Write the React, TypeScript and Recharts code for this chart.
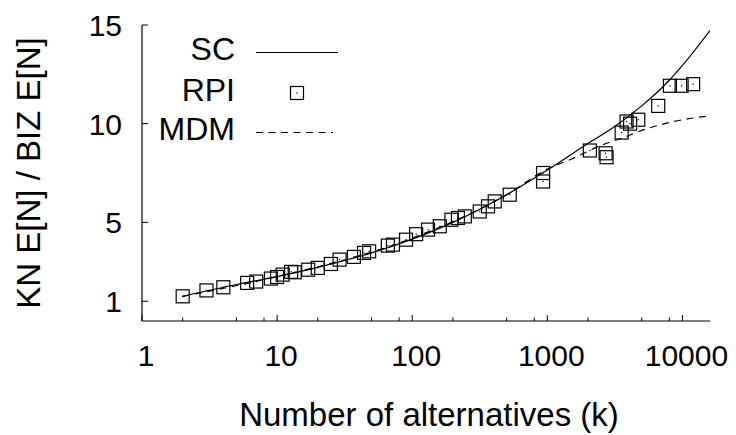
import React from 'react';
import { ComposedChart, Line, Scatter, XAxis, YAxis, Legend, Label } from 'recharts';

// ── axis ticks ─────────────────────────────────────────────
const X_TICKS = [1, 2, 5, 8, 10, 20, 50, 80, 100, 200, 500, 800, 1000, 2000, 5000, 8000, 10000];
const X_LABELED = [1, 10, 100, 1000, 10000];
const Y_TICKS = [1, 5, 10, 15];
const Y_RIGHT_TICKS = [1, 5, 10];

// ── SC (solid) ─────────────────────────────────────────────
const SC_K = [2, 5, 10, 20, 50, 100, 200, 500, 1000, 2000, 3000, 5000, 8000, 10000, 16000];
const SC_V = [1.25, 1.85, 2.25, 2.72, 3.45, 4.15, 5.0, 6.4, 7.65, 9.0, 9.75, 10.9, 12.2, 12.95, 14.72];

// ── MDM (dashed) ───────────────────────────────────────────
const MDM_K = [2, 10, 100, 500, 1000, 1500, 2500, 3500, 5500, 8500, 16000];
const MDM_V = [1.25, 2.25, 4.2, 6.4, 7.7, 8.2, 8.9, 9.25, 9.75, 10.1, 10.4];

// ── RPI (squares) ──────────────────────────────────────────
const RPI_K = [2, 3, 4, 6, 7, 9, 10, 11, 12.7, 13.5, 17, 20, 25, 29, 37, 44, 48, 66, 72, 90,
  107, 131, 160, 195, 218, 245, 316, 364, 408, 527, 930, 930, 2065, 2700, 2745, 3550, 3860,
  4100, 4710, 6620, 8080, 9860, 12000];
const RPI_V = [1.25, 1.55, 1.71, 1.93, 2.0, 2.15, 2.23, 2.35, 2.49, 2.47, 2.6, 2.69, 2.89, 3.11,
  3.25, 3.45, 3.53, 3.82, 3.87, 4.12, 4.4, 4.63, 4.8, 5.13, 5.22, 5.3, 5.55, 5.81, 6.06, 6.4,
  7.5, 7.07, 8.64, 8.5, 8.3, 9.55, 10.11, 10.0, 10.2, 10.9, 11.92, 11.92, 12.0];

const scData = SC_K.map((k, i) => ({ k, v: SC_V[i] }));
const mdmData = MDM_K.map((k, i) => ({ k, v: MDM_V[i] }));
const rpiData = RPI_K.map((k, i) => ({ k, v: RPI_V[i] }));

const FONT = '"Liberation Sans", Arial, Helvetica, sans-serif';
const DASH = '7 5.5';

const Square = (props: any) => {
  const { cx, cy } = props;
  if (cx == null || cy == null) return null;
  return (
    <g>
      <rect x={cx - 6.5} y={cy - 6.5} width={13} height={13} fill="none" stroke="#000" strokeWidth={1.2} />
      <rect x={cx - 0.6} y={cy - 0.6} width={1.2} height={1.2} fill="#000" />
    </g>
  );
};

const BottomTick = (props: any) => {
  const { x, y, payload } = props;
  const major = X_LABELED.includes(payload.value);
  return (
    <g>
      <line x1={x} x2={x} y1={y} y2={y - (major ? 6 : 3.5)} stroke="#000" />
      {major && (
        <text x={x + 4} y={y + 45} textAnchor="middle" fontSize={30} fontFamily={FONT} fill="#000">
          {payload.value}
        </text>
      )}
    </g>
  );
};

const TopTick = (props: any) => {
  const { x, y, payload } = props;
  const major = X_LABELED.includes(payload.value);
  return <line x1={x} x2={x} y1={y} y2={y + (major ? 6 : 3.5)} stroke="#000" />;
};

const LeftTick = (props: any) => {
  const { x, y, payload } = props;
  return (
    <g>
      <line x1={x} x2={x + 6} y1={y} y2={y} stroke="#000" />
      <text x={x - 20} y={y + 11} textAnchor="end" fontSize={30} fontFamily={FONT} fill="#000">
        {payload.value}
      </text>
    </g>
  );
};

const RightTick = (props: any) => {
  const { x, y } = props;
  return <line x1={x} x2={x - 6} y1={y} y2={y} stroke="#000" />;
};

const XTitle = (props: any) => {
  const vb = props.viewBox;
  return (
    <text x={vb.x + vb.width / 2 + 3} y={vb.y + 105} textAnchor="middle" fontSize={33} fontFamily={FONT} fill="#000">
      Number of alternatives (k)
    </text>
  );
};

const YTitle = (props: any) => {
  const vb = props.viewBox;
  return (
    <text
      transform={`translate(${vb.x + 28}, ${vb.y + vb.height / 2}) rotate(-90)`}
      textAnchor="middle"
      dominantBaseline="central"
      fontSize={33}
      fontFamily={FONT}
      fill="#000"
    >
      KN E[N] / BIZ E[N]
    </text>
  );
};

const LegendBox = () => (
  <svg width={400} height={160} style={{ display: 'block' }}>
    <g fontSize={32} fontFamily={FONT} fill="#000" textAnchor="end">
      <text x={235} y={60}>SC</text>
      <text x={235} y={101}>RPI</text>
      <text x={235} y={140}>MDM</text>
    </g>
    <line x1={256} x2={338} y1={52.5} y2={52.5} stroke="#000" strokeWidth={1.2} />
    <Square cx={297} cy={93} />
    <line x1={256} x2={333} y1={132.5} y2={132.5} stroke="#000" strokeWidth={1.2} strokeDasharray={DASH} />
  </svg>
);

export default function App() {
  return (
    <div style={{ position: 'absolute', left: 0, top: 0, width: 736, height: 435, background: '#fff' }}>
      <ComposedChart width={736} height={435} margin={{ top: 25, right: 26, bottom: 0, left: 0 }}>
        <XAxis
          xAxisId="bottom"
          dataKey="k"
          type="number"
          scale="log"
          domain={[1, 16000]}
          allowDataOverflow
          ticks={X_TICKS}
          interval={0}
          tick={<BottomTick />}
          tickLine={false}
          tickSize={0}
          tickMargin={0}
          height={114}
          axisLine={{ stroke: '#000', strokeWidth: 1.2 }}
          label={<Label content={<XTitle />} />}
        />
        <XAxis
          xAxisId="top"
          orientation="top"
          dataKey="k"
          type="number"
          scale="log"
          domain={[1, 16000]}
          allowDataOverflow
          ticks={X_TICKS}
          interval={0}
          tick={<TopTick />}
          tickLine={false}
          tickSize={0}
          tickMargin={0}
          height={0}
          axisLine={{ stroke: '#000', strokeWidth: 1.2 }}
        />
        <YAxis
          yAxisId="left"
          type="number"
          domain={[0, 15]}
          ticks={Y_TICKS}
          interval={0}
          tick={<LeftTick />}
          tickLine={false}
          tickSize={0}
          tickMargin={0}
          width={142}
          axisLine={{ stroke: '#000', strokeWidth: 1.2 }}
          label={<Label content={<YTitle />} />}
        />
        <YAxis
          yAxisId="right"
          orientation="right"
          type="number"
          domain={[0, 15]}
          ticks={Y_RIGHT_TICKS}
          interval={0}
          tick={<RightTick />}
          tickLine={false}
          tickSize={0}
          tickMargin={0}
          width={0}
          axisLine={{ stroke: '#000', strokeWidth: 1.2 }}
        />
        <Legend
          layout="vertical"
          align="center"
          verticalAlign="middle"
          content={<LegendBox />}
          wrapperStyle={{ position: 'absolute', left: 0, top: 0, width: 400, height: 160 }}
        />
        <Line
          xAxisId="bottom"
          yAxisId="left"
          data={scData}
          dataKey="v"
          type="monotone"
          stroke="#000"
          strokeWidth={1.2}
          dot={false}
          isAnimationActive={false}
        />
        <Line
          xAxisId="bottom"
          yAxisId="left"
          data={mdmData}
          dataKey="v"
          type="monotone"
          stroke="#000"
          strokeWidth={1.2}
          strokeDasharray={DASH}
          dot={false}
          isAnimationActive={false}
        />
        <Scatter
          xAxisId="bottom"
          yAxisId="left"
          data={rpiData}
          dataKey="v"
          shape={<Square />}
          isAnimationActive={false}
        />
        <Scatter xAxisId="top" yAxisId="right" data={[]} dataKey="v" isAnimationActive={false} />
      </ComposedChart>
    </div>
  );
}
